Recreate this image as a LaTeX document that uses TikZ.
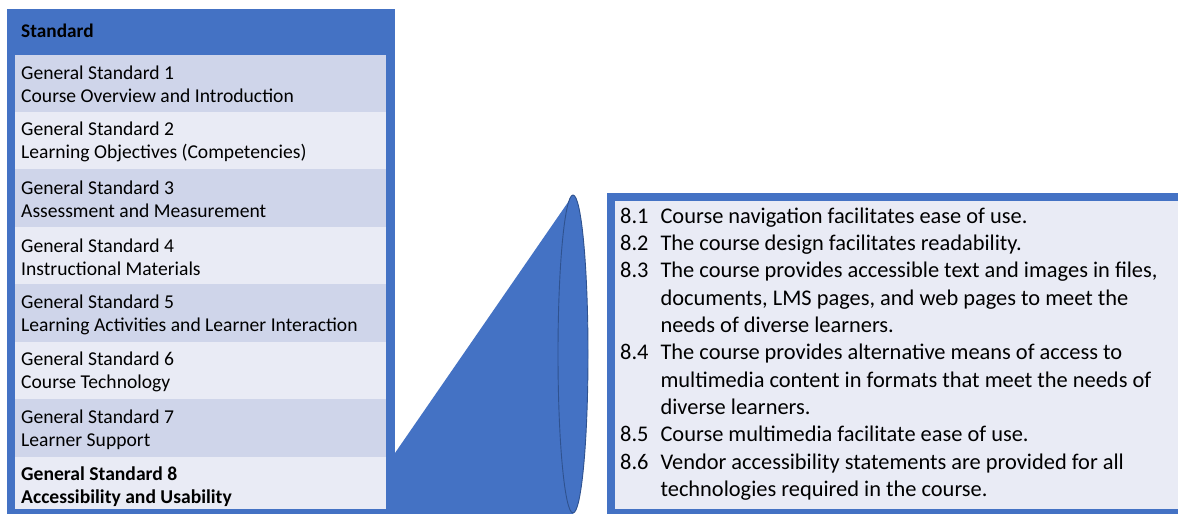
\documentclass[tikz,border=0pt]{standalone}
\usepackage{fontspec}
\setmainfont{Carlito}
\usepackage{array}
\definecolor{accent}{HTML}{4472C4}
\definecolor{accentdark}{HTML}{2F528F}
\definecolor{rowA}{HTML}{CFD5EA}
\definecolor{rowB}{HTML}{E9EBF5}
\begin{document}
\begin{tikzpicture}[x=1pt,y=-1pt,
  rowtext/.style={anchor=west,align=left,inner sep=0pt,font=\fontsize{19.6}{23}\selectfont},
  rowfillA/.style={fill=rowA,draw=none},
  rowfillB/.style={fill=rowB,draw=none}]
\useasboundingbox (0,0) rectangle (1178,514);
\fill[white] (0,0) rectangle (1178,514);

% standards table
\fill[accent] (7,9) rectangle (395,514);
\node[anchor=west,inner sep=0pt,font=\fontsize{19.3}{22}\selectfont\bfseries] (hdr) at (21,31) {Standard};
\fill[rowfillA] (15,55) rectangle (386,112);
\fill[rowfillB] (15,112) rectangle (386,169);
\fill[rowfillA] (15,169) rectangle (386,227);
\fill[rowfillB] (15,227) rectangle (386,284);
\fill[rowfillA] (15,284) rectangle (386,342);
\fill[rowfillB] (15,342) rectangle (386,399);
\fill[rowfillA] (15,399) rectangle (386,457);
\fill[rowfillB] (15,457) rectangle (386,509);
\node[rowtext] (r1) at (21,84) {General Standard 1\\Course Overview and Introduction};
\node[rowtext] (r2) at (21,142) {General Standard 2\\Learning Objectives (Competencies)};
\node[rowtext] (r3) at (21,199.5) {General Standard 3\\Assessment and Measurement};
\node[rowtext] (r4) at (21,257) {General Standard 4\\Instructional Materials};
\node[rowtext] (r5) at (21,314.5) {General Standard 5\\Learning Activities and Learner Interaction};
\node[rowtext] (r6) at (21,372) {General Standard 6\\Course Technology};
\node[rowtext] (r7) at (21,429.5) {General Standard 7\\Learner Support};
\node[rowtext,font=\fontsize{19.6}{23}\selectfont\bfseries] (r8) at (21,487) {General Standard 8\\Accessibility and Usability};

% expanding cone
\fill[accent] (395,453) -- (573,195) -- (573,514) -- (395,514) -- cycle;
\draw[accentdark,fill=accent,line width=0.9pt] (573,354) ellipse [x radius=15,y radius=159];

% detail box
\fill[accent] (607,193) rectangle (1178,514);
\fill[rowB] (615,201) rectangle (1178,509);
\node[anchor=north west,inner sep=0pt,font=\fontsize{22.4}{27.3}\selectfont] (detail) at (620,204) {%
\begin{tabular}{@{}l@{\hspace{12pt}}l@{}}
8.1 & Course navigation facilitates ease of use.\\
8.2 & The course design facilitates readability.\\
8.3 & The course provides accessible text and images in files,\\
    & documents, LMS pages, and web pages to meet the\\
    & needs of diverse learners.\\
8.4 & The course provides alternative means of access to\\
    & multimedia content in formats that meet the needs of\\
    & diverse learners.\\
8.5 & Course multimedia facilitate ease of use.\\
8.6 & Vendor accessibility statements are provided for all\\
    & technologies required in the course.
\end{tabular}};
\end{tikzpicture}
\end{document}
